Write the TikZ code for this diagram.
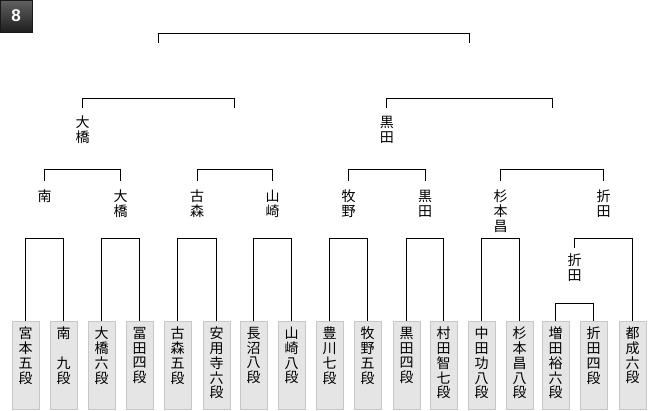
\documentclass[tikz,border=0pt]{standalone}
\usepackage{fontspec}
\newfontfamily\cjk{Noto Sans CJK JP}
\setsansfont{Liberation Sans}
\begin{document}
\begin{tikzpicture}[x=1pt,y=-1pt,
  conn/.style={line width=1pt, black},
  box/.style={draw=black!22, fill=black!10, line width=0.8pt, minimum width=27pt, minimum height=88pt, anchor=north, inner sep=0pt},
  vtext/.style={font=\cjk\fontsize{14}{14.7}\selectfont, align=center, anchor=north, inner sep=0pt},
  badge/.style={minimum size=32pt, inner sep=0pt, top color=black!62, bottom color=black!88, draw=black!90, text=white, font=\sffamily\bfseries\fontsize{17}{17}\selectfont}]
\useasboundingbox (0,0) rectangle (660,410);
\node[badge] (badge) at (16,16) {8};
% boxes
\foreach \i/\x/\t in {
  1/25.5/{宮\\本\\五\\段},
  2/63.5/{南\\　\\九\\段},
  3/101.5/{大\\橋\\六\\段},
  4/139.5/{冨\\田\\四\\段},
  5/177.5/{古\\森\\五\\段},
  6/216.5/{安\\用\\寺\\六\\段},
  7/253.5/{長\\沼\\八\\段},
  8/291.5/{山\\崎\\八\\段},
  9/329.5/{豊\\川\\七\\段},
  10/367.5/{牧\\野\\五\\段},
  11/406.5/{黒\\田\\四\\段},
  12/443.5/{村\\田\\智\\七\\段},
  13/481.5/{中\\田\\功\\八\\段},
  14/519.5/{杉\\本\\昌\\八\\段},
  15/555.5/{増\\田\\裕\\六\\段},
  16/593.5/{折\\田\\四\\段},
  17/632.5/{都\\成\\六\\段}}{
  \node[box] (b\i) at (\x,321) {};
  \node[vtext, yshift=-6pt] (t\i) at (b\i.north) {\t};
}
% level 1 brackets
\foreach \a/\b in {1/2,3/4,5/6,7/8,9/10,11/12,13/14}{
  \draw[conn] (b\a.north) -- (b\a.north |- 0,238) -- (b\b.north |- 0,238) -- (b\b.north);
}
\draw[conn] (b15.north) -- (b15.north |- 0,303) -- (b16.north |- 0,303) -- (b16.north);
% mid label
\node[vtext] (m) at (574.5,254) {折\\田};
\draw[conn] (m.north |- 0,248) -- (m.north |- 0,238) -- (b17.north |- 0,238) -- (b17.north);
% level 2 labels
\node[vtext] (w1) at (44.5,190) {南};
\node[vtext] (w2) at (120.5,190) {大\\橋};
\node[vtext] (w3) at (197,190) {古\\森};
\node[vtext] (w4) at (272.5,190) {山\\崎};
\node[vtext] (w5) at (348.5,190) {牧\\野};
\node[vtext] (w6) at (425,190) {黒\\田};
\node[vtext] (w7) at (500.5,190) {杉\\本\\昌};
\node[vtext] (w8) at (603.5,190) {折\\田};
\foreach \a/\b in {1/2,3/4,5/6,7/8}{
  \draw[conn] (w\a.north |- 0,181) -- (w\a.north |- 0,169) -- (w\b.north |- 0,169) -- (w\b.north |- 0,181);
}
% level 3
\node[vtext] (v1) at (82.5,116) {大\\橋};
\coordinate (v2) at (234.75,116);
\node[vtext] (v3) at (386.75,116) {黒\\田};
\coordinate (v4) at (552,116);
\draw[conn] (v1.north |- 0,108) -- (v1.north |- 0,98) -- (v2 |- 0,98) -- (v2 |- 0,108);
\draw[conn] (v3.north |- 0,108) -- (v3.north |- 0,98) -- (v4 |- 0,98) -- (v4 |- 0,108);
% top
\coordinate (f1) at (158.6,43);
\coordinate (f2) at (469.4,43);
\draw[conn] (f1) -- (f1 |- 0,33) -- (f2 |- 0,33) -- (f2);
\end{tikzpicture}
\end{document}
